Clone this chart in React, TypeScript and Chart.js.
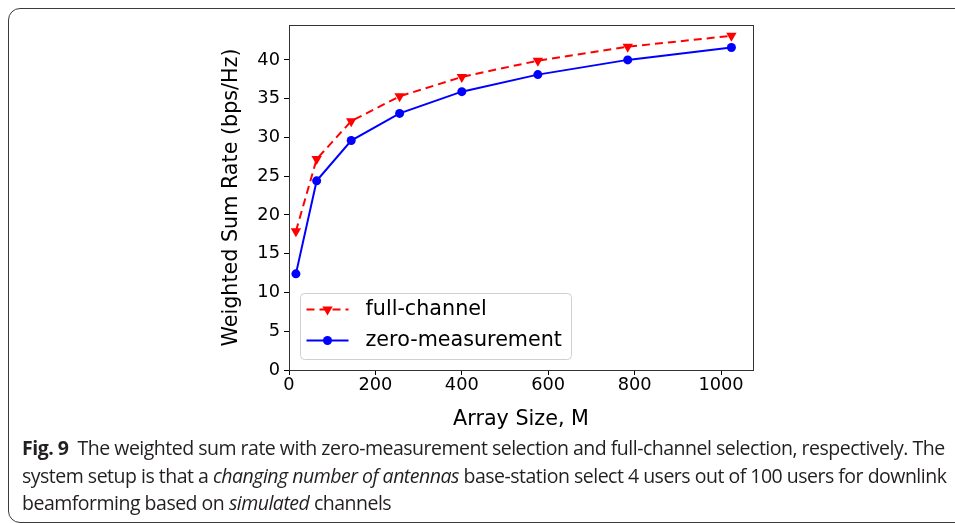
import React, { useEffect, useRef } from "react";
import { Chart, registerables } from "chart.js";

Chart.register(...registerables);

// ---- data ----
const arraySizes = [16, 64, 144, 256, 400, 576, 784, 1024];
const fullChannel = [17.9, 27.2, 32.1, 35.3, 37.8, 39.9, 41.7, 43.1];
const zeroMeasurement = [12.4, 24.4, 29.6, 33.1, 35.9, 38.1, 40.0, 41.6];
const seriesLabels = ["full-channel", "zero-measurement"];
const xTitle = "Array Size, M";
const yTitle = "Weighted Sum Rate (bps/Hz)";
const xTicks = [0, 200, 400, 600, 800, 1000];
const yTicks = [0, 5, 10, 15, 20, 25, 30, 35, 40];

const FONT = "'DejaVu Sans', sans-serif";

const frameBoxPlugin = {
  id: "frameBox",
  afterDraw(chart: any) {
    const { ctx, chartArea } = chart;
    ctx.save();
    ctx.strokeStyle = "#333333";
    ctx.lineWidth = 1;
    ctx.strokeRect(
      Math.round(chartArea.left) + 0.5,
      Math.round(chartArea.top) + 0.5,
      Math.round(chartArea.right - chartArea.left),
      Math.round(chartArea.bottom - chartArea.top)
    );
    ctx.restore();
  },
};

function drawMarker(ctx: CanvasRenderingContext2D, style: string, x: number, y: number, r: number, color: string) {
  ctx.save();
  ctx.fillStyle = color;
  ctx.setLineDash([]);
  ctx.beginPath();
  if (style === "triangle") {
    for (let k = 0; k < 3; k++) {
      const a = Math.PI / 2 + (k * 2 * Math.PI) / 3;
      const px = x + r * Math.cos(a);
      const py = y + r * Math.sin(a);
      if (k === 0) ctx.moveTo(px, py);
      else ctx.lineTo(px, py);
    }
    ctx.closePath();
  } else {
    ctx.arc(x, y, r, 0, Math.PI * 2);
  }
  ctx.fill();
  ctx.restore();
}

const boxLegendPlugin = {
  id: "boxLegend",
  afterDatasetsDraw(chart: any) {
    const { ctx, chartArea } = chart;
    const w = 271;
    const h = 66;
    const x = Math.round(chartArea.left) + 11.5;
    const y = Math.round(chartArea.bottom) - 11 - h + 0.5;
    ctx.save();
    ctx.beginPath();
    const r = 4;
    ctx.moveTo(x + r, y);
    ctx.lineTo(x + w - r, y);
    ctx.quadraticCurveTo(x + w, y, x + w, y + r);
    ctx.lineTo(x + w, y + h - r);
    ctx.quadraticCurveTo(x + w, y + h, x + w - r, y + h);
    ctx.lineTo(x + r, y + h);
    ctx.quadraticCurveTo(x, y + h, x, y + h - r);
    ctx.lineTo(x, y + r);
    ctx.quadraticCurveTo(x, y, x + r, y);
    ctx.closePath();
    ctx.fillStyle = "rgba(255,255,255,0.8)";
    ctx.fill();
    ctx.strokeStyle = "#d0d0d0";
    ctx.lineWidth = 1;
    ctx.stroke();
    chart.data.datasets.forEach((ds: any, i: number) => {
      const cy = y + 16 + i * 31;
      ctx.save();
      ctx.strokeStyle = ds.borderColor;
      ctx.lineWidth = ds.borderWidth;
      ctx.setLineDash(ds.borderDash || []);
      ctx.beginPath();
      ctx.moveTo(x + 6, cy);
      ctx.lineTo(x + 48, cy);
      ctx.stroke();
      ctx.restore();
      drawMarker(ctx, ds.pointStyle, x + 27, cy, ds.pointRadius, ds.borderColor);
      ctx.fillStyle = "#000000";
      ctx.font = "20.7px " + FONT;
      ctx.textBaseline = "middle";
      ctx.textAlign = "left";
      ctx.fillText(ds.label, x + 65, cy);
    });
    ctx.restore();
  },
};

function ChartView() {
  const ref = useRef<HTMLCanvasElement | null>(null);
  useEffect(() => {
    if (!ref.current) return;
    const chart = new Chart(ref.current, {
      type: "line",
      data: {
        datasets: [
          {
            label: seriesLabels[0],
            data: arraySizes.map((m, i) => ({ x: m, y: fullChannel[i] })),
            borderColor: "#ff0000",
            backgroundColor: "#ff0000",
            borderWidth: 2,
            borderDash: [8, 5],
            pointStyle: "triangle",
            pointRotation: 180,
            pointRadius: 6,
            pointBorderWidth: 0,
            tension: 0,
          },
          {
            label: seriesLabels[1],
            data: arraySizes.map((m, i) => ({ x: m, y: zeroMeasurement[i] })),
            borderColor: "#0000ff",
            backgroundColor: "#0000ff",
            borderWidth: 2,
            pointStyle: "circle",
            pointRadius: 4.5,
            pointBorderWidth: 0,
            tension: 0,
          },
        ] as any,
      },
      options: {
        animation: false,
        responsive: false,
        maintainAspectRatio: false,
        layout: { padding: { top: 15, right: 17, left: 0, bottom: 0 } },
        plugins: {
          legend: { display: false },
          tooltip: { enabled: false },
        },
        scales: {
          x: {
            type: "linear",
            min: 0,
            max: 1074,
            afterFit: (s: any) => {
              s.height = 80;
            },
            afterBuildTicks: (s: any) => {
              s.ticks = xTicks.map((v) => ({ value: v }));
            },
            ticks: {
              color: "#000",
              font: { family: FONT, size: 17.8 },
              padding: 0,
              maxRotation: 0,
              autoSkip: false,
              callback: (v: any) => String(v),
            },
            grid: {
              drawOnChartArea: false,
              drawTicks: true,
              tickLength: 5,
              tickColor: "#000",
            },
            border: { display: true, color: "#333", width: 1 },
            title: {
              display: true,
              text: xTitle,
              color: "#000",
              font: { family: FONT, size: 20.7 },
              padding: { top: 0, bottom: 17.5 },
            },
          },
          y: {
            type: "linear",
            min: 0,
            max: 44.5,
            afterFit: (s: any) => {
              s.width = 89;
            },
            afterBuildTicks: (s: any) => {
              s.ticks = yTicks.map((v) => ({ value: v }));
            },
            ticks: {
              color: "#000",
              font: { family: FONT, size: 17.8 },
              padding: 4,
              autoSkip: false,
              callback: (v: any) => String(v),
            },
            grid: {
              drawOnChartArea: false,
              drawTicks: true,
              tickLength: 5,
              tickColor: "#000",
            },
            border: { display: true, color: "#333", width: 1 },
            title: {
              display: true,
              text: yTitle,
              color: "#000",
              font: { family: FONT, size: 20.7 },
              padding: { top: 19.5, bottom: 0 },
            },
          },
        },
      } as any,
      plugins: [frameBoxPlugin, boxLegendPlugin],
    });
    return () => chart.destroy();
  }, []);
  return (
    <canvas
      ref={ref}
      width={570}
      height={440}
      style={{ position: "fixed", left: 200, top: 10, width: 570, height: 440 }}
    />
  );
}

export default function App() {
  return (
    <div>
      <div
        style={{
          position: "fixed",
          left: 8,
          top: 8,
          width: 1000,
          height: 515,
          border: "1px solid #3a3a3a",
          borderRadius: 12,
          boxSizing: "border-box",
        }}
      />
      <ChartView />
      <div
        style={{
          position: "fixed",
          left: 22,
          top: 434,
          fontFamily: "'Open Sans', sans-serif",
          fontSize: 19.5,
          lineHeight: "27.5px",
          color: "#231f20",
          whiteSpace: "nowrap",
          letterSpacing: "-0.5px",
        }}
      >
        <div>
          <b>Fig. 9</b>&nbsp; The weighted sum rate with zero-measurement selection and full-channel selection, respectively. The
        </div>
        <div>
          system setup is that a <i>changing number of antennas</i> base-station select 4 users out of 100 users for downlink
        </div>
        <div>
          beamforming based on <i>simulated</i> channels
        </div>
      </div>
    </div>
  );
}
